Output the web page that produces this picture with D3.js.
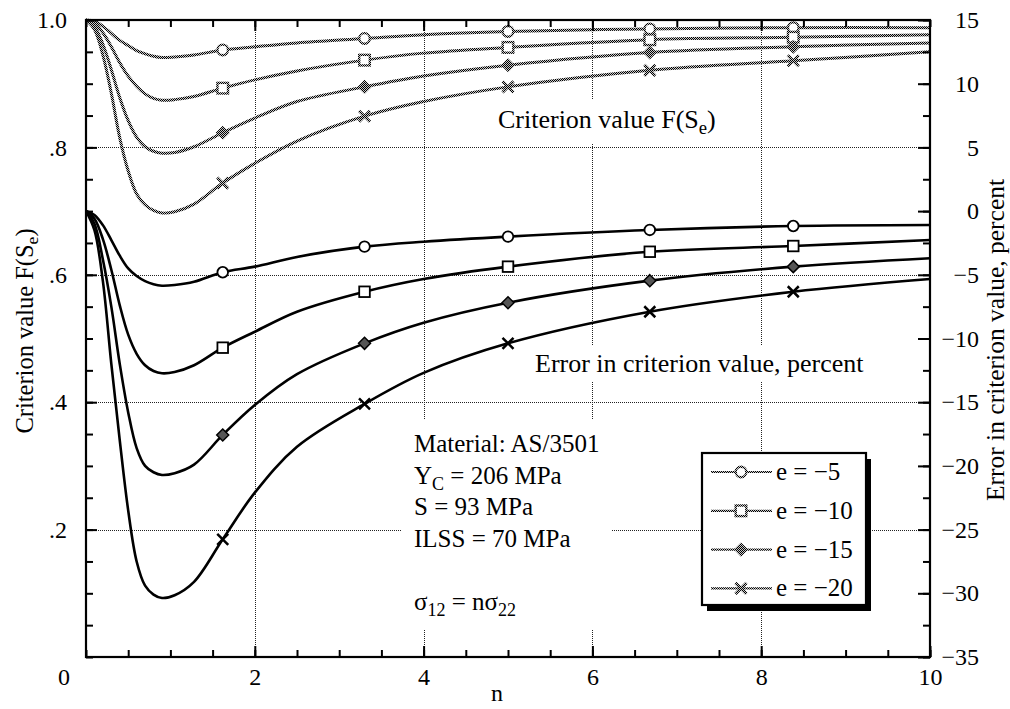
<!DOCTYPE html>
<html><head><meta charset="utf-8">
<script src="https://cdn.jsdelivr.net/npm/d3@7"></script>
<style>
html,body{margin:0;padding:0;background:#fff;}
svg{display:block;font-family:"Liberation Serif","Times New Roman",serif;}
</style></head>
<body><svg id="chart" width="1010" height="709"></svg>
<script>
// Load ratio n (sigma12 = n * sigma22)
const nValues = [0, 0.1, 0.2, 0.3, 0.4, 0.5, 0.6, 0.7, 0.8, 0.9, 1.05, 1.28, 1.62, 2, 2.5, 3.3, 4, 5, 6.68, 8.38, 10];
const markerN = [1.62, 3.3, 5, 6.68, 8.38];

const seriesNames = ["e = \u22125", "e = \u221210", "e = \u221215", "e = \u221220"];
const markerShapes = ["circle", "square", "diamond", "cross"];

// Criterion value F(Se), left axis
const criterionE5  = [1.0, 0.998, 0.990, 0.979, 0.968, 0.960, 0.952, 0.947, 0.943, 0.941, 0.942, 0.945, 0.953, 0.958, 0.964, 0.971, 0.977, 0.982, 0.986, 0.988, 0.988];
const criterionE10 = [1.0, 0.995, 0.980, 0.958, 0.933, 0.912, 0.896, 0.884, 0.877, 0.874, 0.875, 0.880, 0.893, 0.906, 0.920, 0.937, 0.948, 0.957, 0.969, 0.973, 0.977];
const criterionE15 = [1.0, 0.990, 0.962, 0.922, 0.878, 0.842, 0.816, 0.801, 0.794, 0.791, 0.792, 0.801, 0.823, 0.846, 0.872, 0.895, 0.912, 0.929, 0.949, 0.958, 0.964];
const criterionE20 = [1.0, 0.985, 0.945, 0.885, 0.815, 0.763, 0.727, 0.710, 0.701, 0.697, 0.699, 0.711, 0.744, 0.775, 0.810, 0.849, 0.872, 0.895, 0.921, 0.936, 0.950];

// Error in criterion value, percent, right axis
const errorE5  = [0, -0.3, -1.1, -2.27, -3.5, -4.5, -5.1, -5.5, -5.75, -5.86, -5.8, -5.55, -4.8, -4.36, -3.6, -2.79, -2.4, -2.0, -1.48, -1.17, -1.09];
const errorE10 = [0, -0.6, -2.2, -4.6, -7.4, -9.7, -11.2, -12.1, -12.55, -12.73, -12.63, -12.1, -10.72, -9.47, -7.9, -6.33, -5.33, -4.36, -3.19, -2.74, -2.27];
const errorE15 = [0, -1.0, -3.8, -7.5, -12.0, -15.8, -18.6, -20.0, -20.5, -20.71, -20.57, -19.9, -17.57, -15.22, -12.8, -10.38, -8.76, -7.19, -5.46, -4.36, -3.70];
const errorE20 = [0, -1.5, -5.5, -12.0, -18.0, -23.5, -27.5, -29.4, -30.1, -30.37, -30.15, -29.1, -25.76, -22.1, -18.5, -15.14, -12.7, -10.38, -7.9, -6.33, -5.33];

const xTickLabels = [2, 4, 6, 8, 10];
const leftTickLabels = [0.2, 0.4, 0.6, 0.8, 1.0];
const rightTickLabels = [15, 10, 5, 0, -5, -10, -15, -20, -25, -30, -35];
const gridN = [2, 4, 6, 8];
const gridF = [0.2, 0.4, 0.6, 0.8];

const materialLines = [
  [["Material: AS/3501", null]],
  [["Y", null], ["C", "sub"], [" = 206 MPa", null]],
  [["S = 93 MPa", null]],
  [["ILSS = 70 MPa", null]],
  [],
  [["\u03c3", null], ["12", "sub"], [" = n\u03c3", null], ["22", "sub"]]
];

const criterionSeries = [criterionE5, criterionE10, criterionE15, criterionE20];
const errorSeries = [errorE5, errorE10, errorE15, errorE20];

const SERIF = '"Liberation Serif", "Times New Roman", Times, serif';
const svg = d3.select("#chart");
const pL = 86, pR = 930, pT = 20, pB = 657;

const x = d3.scaleLinear().domain([0, 10]).range([pL, pR]);
const yL = d3.scaleLinear().domain([0, 1]).range([pB, pT]);
const yR = d3.scaleLinear().domain([-35, 15]).range([pB, pT]);

// halftone texture used for the criterion curves
const defs = svg.append("defs");
const pat = defs.append("pattern").attr("id", "halftone")
  .attr("width", 2).attr("height", 2).attr("patternUnits", "userSpaceOnUse");
pat.append("rect").attr("width", 2).attr("height", 2).attr("fill", "#c8c8c8");
pat.append("rect").attr("width", 1).attr("height", 1).attr("fill", "#000");
pat.append("rect").attr("x", 1).attr("y", 1).attr("width", 1).attr("height", 1).attr("fill", "#000");

// dotted grid
const grid = svg.append("g").attr("stroke", "#222").attr("stroke-width", 1).attr("stroke-dasharray", "1,1");
grid.selectAll("line.gx").data(gridN).join("line").attr("class", "gx")
  .attr("x1", d => Math.round(x(d)) + 0.5).attr("x2", d => Math.round(x(d)) + 0.5)
  .attr("y1", pT).attr("y2", pB);
grid.selectAll("line.gy").data(gridF).join("line").attr("class", "gy")
  .attr("y1", d => Math.round(yL(d)) + 0.5).attr("y2", d => Math.round(yL(d)) + 0.5)
  .attr("x1", pL).attr("x2", pR);

// backgrounds behind in-plot labels
const bgLayer = svg.append("g");
const labelLayer = svg.append("g").attr("fill", "#000");

function addSubText(g, parts, fs) {
  let prevSub = false;
  parts.forEach(([t, kind]) => {
    if (kind === "sub") {
      g.append("tspan").attr("font-size", fs * 0.72).attr("dy", fs * 0.22).text(t);
      prevSub = true;
    } else {
      const ts = g.append("tspan").text(t);
      if (prevSub) ts.attr("dy", -fs * 0.22);
      prevSub = false;
    }
  });
}

const critLabel = labelLayer.append("text").attr("x", 498).attr("y", 128).attr("font-size", 26)
  .style("font-family", SERIF);
addSubText(critLabel, [["Criterion value F(S", null], ["e", "sub"], [")", null]], 26);

const errLabel = labelLayer.append("text").attr("x", 535).attr("y", 372).attr("font-size", 26)
  .style("font-family", SERIF).text("Error in criterion value, percent");

const matGroup = labelLayer.append("g");
const matBaselines = [452, 484, 515, 547, 578, 610];
materialLines.forEach((parts, i) => {
  if (!parts.length) return;
  const t = matGroup.append("text").attr("x", 414).attr("y", matBaselines[i]).attr("font-size", 25)
    .style("font-family", SERIF);
  addSubText(t, parts, 25);
});

function bgFor(node, padX, padY) {
  const b = node.getBBox();
  bgLayer.append("rect").attr("x", b.x - padX).attr("y", b.y - padY)
    .attr("width", b.width + 2 * padX).attr("height", b.height + 2 * padY).attr("fill", "#fff");
}
bgFor(critLabel.node(), 8, 6);
bgFor(errLabel.node(), 6, 3);
bgFor(matGroup.node(), 12, 10);

// curves
const curveLayer = svg.append("g").attr("fill", "none");
const lineCrit = d3.line().x((d, i) => x(nValues[i])).y(d => yL(d)).curve(d3.curveCatmullRom.alpha(0.5));
const lineErr = d3.line().x((d, i) => x(nValues[i])).y(d => yR(d)).curve(d3.curveCatmullRom.alpha(0.5));

criterionSeries.forEach(s => {
  curveLayer.append("path").attr("d", lineCrit(s))
    .attr("stroke", "url(#halftone)").attr("stroke-width", 3).attr("stroke-linejoin", "round");
});
errorSeries.forEach(s => {
  curveLayer.append("path").attr("d", lineErr(s))
    .attr("stroke", "#000").attr("stroke-width", 2.6).attr("stroke-linejoin", "round");
});

// marker symbols
function drawMarker(g, shape, cx, cy, style) {
  const dark = style === "solid";
  const stroke = dark ? "#000" : "url(#halftone)";
  if (shape === "circle") {
    g.append("circle").attr("cx", cx).attr("cy", cy).attr("r", 5.3)
      .attr("fill", "#fff").attr("stroke", stroke).attr("stroke-width", dark ? 1.8 : 2.4);
  } else if (shape === "square") {
    g.append("rect").attr("x", cx - 5.3).attr("y", cy - 5.3).attr("width", 10.6).attr("height", 10.6)
      .attr("fill", "#fff").attr("stroke", stroke).attr("stroke-width", dark ? 1.8 : 2.4);
  } else if (shape === "diamond") {
    const r = 6;
    g.append("path").attr("d", `M${cx},${cy - r}L${cx + r},${cy}L${cx},${cy + r}L${cx - r},${cy}Z`)
      .attr("fill", dark ? "#555" : "url(#halftone)").attr("stroke", stroke).attr("stroke-width", 1.5);
  } else {
    const r = 5.5;
    g.append("path").attr("d", `M${cx - r},${cy - r}L${cx + r},${cy + r}M${cx - r},${cy + r}L${cx + r},${cy - r}`)
      .attr("fill", "none").attr("stroke", stroke).attr("stroke-width", dark ? 2.5 : 3);
  }
}

const markerLayer = svg.append("g");
markerN.forEach(n => {
  const i = nValues.indexOf(n);
  criterionSeries.forEach((s, k) => drawMarker(markerLayer, markerShapes[k], x(n), yL(s[i]), "halftone"));
  errorSeries.forEach((s, k) => drawMarker(markerLayer, markerShapes[k], x(n), yR(s[i]), "solid"));
});

// axes with inward ticks
const axes = svg.append("g").attr("font-size", 24);
const minorN = d3.range(0, 10.01, 0.5);
const minorF = d3.range(0, 1.001, 0.05);
const minorR = d3.range(-35, 15.01, 2.5);

function tickAxis(axisGen, transform) {
  const g = axes.append("g").attr("transform", transform).call(axisGen);
  g.attr("font-size", 24).attr("font-family", SERIF);
  g.select(".domain").remove();
  g.selectAll(".tick line").attr("stroke", "#000").attr("stroke-width", 2);
  return g;
}

tickAxis(d3.axisBottom(x).tickValues(minorN).tickSize(-7).tickFormat(""), `translate(0,${pB})`);
tickAxis(d3.axisTop(x).tickValues(minorN).tickSize(-7).tickFormat(""), `translate(0,${pT})`);
tickAxis(d3.axisTop(x).tickValues(gridN).tickSize(-11).tickFormat(""), `translate(0,${pT})`);
const bx = tickAxis(d3.axisBottom(x).tickValues(xTickLabels).tickSize(-11).tickPadding(11).tickFormat(d3.format("d")), `translate(0,${pB})`);
bx.selectAll(".tick text").attr("fill", "#000");

tickAxis(d3.axisLeft(yL).tickValues(minorF).tickSize(-7).tickFormat(""), `translate(${pL},0)`);
const ly = tickAxis(d3.axisLeft(yL).tickValues(leftTickLabels).tickSize(-11).tickPadding(19)
  .tickFormat(d => d === 1 ? "1.0" : d3.format(".1f")(d).replace(/^0/, "")), `translate(${pL},0)`);
ly.selectAll(".tick text").attr("fill", "#000");

tickAxis(d3.axisRight(yR).tickValues(minorR).tickSize(-7).tickFormat(""), `translate(${pR},0)`);
const ry = tickAxis(d3.axisRight(yR).tickValues(rightTickLabels).tickSize(-12).tickPadding(49)
  .tickFormat(d3.format("d")), `translate(${pR},0)`);
ry.selectAll(".tick text").attr("fill", "#000").attr("text-anchor", "end");

// frame
svg.append("rect").attr("x", pL).attr("y", pT).attr("width", pR - pL).attr("height", pB - pT)
  .attr("fill", "none").attr("stroke", "#000").attr("stroke-width", 2.2);

// corner zero and axis titles
axes.append("text").attr("x", 70).attr("y", 685).attr("text-anchor", "end").text("0");
axes.append("text").attr("x", 497).attr("y", 701).attr("text-anchor", "middle").text("n");

const leftTitle = axes.append("text").attr("font-size", 24.5)
  .attr("transform", "translate(33,331) rotate(-90)").attr("text-anchor", "middle");
addSubText(leftTitle, [["Criterion value F(S", null], ["e", "sub"], [")", null]], 24.5);

axes.append("text").attr("font-size", 25.5)
  .attr("transform", "translate(1004,340) rotate(-90)").attr("text-anchor", "middle")
  .text("Error in criterion value, percent");

// legend
const lg = svg.append("g");
const lgX = 702, lgY = 453, lgW = 164, lgH = 152;
lg.append("rect").attr("x", lgX + 5).attr("y", lgY + 6).attr("width", lgW).attr("height", lgH).attr("fill", "#000");
lg.append("rect").attr("x", lgX).attr("y", lgY).attr("width", lgW).attr("height", lgH)
  .attr("fill", "#fff").attr("stroke", "#000").attr("stroke-width", 2.2);
seriesNames.forEach((name, k) => {
  const cy = lgY + 19 + k * 38.8;
  lg.append("line").attr("x1", 711).attr("x2", 772).attr("y1", cy).attr("y2", cy)
    .attr("stroke", "url(#halftone)").attr("stroke-width", 2.2);
  drawMarker(lg, markerShapes[k], 741, cy, "halftone");
  lg.append("text").attr("x", 776).attr("y", cy + 8).attr("font-size", 25).text(name);
});

// every label in the serif face
svg.selectAll("text").style("font-family", SERIF);
</script>
</body></html>
